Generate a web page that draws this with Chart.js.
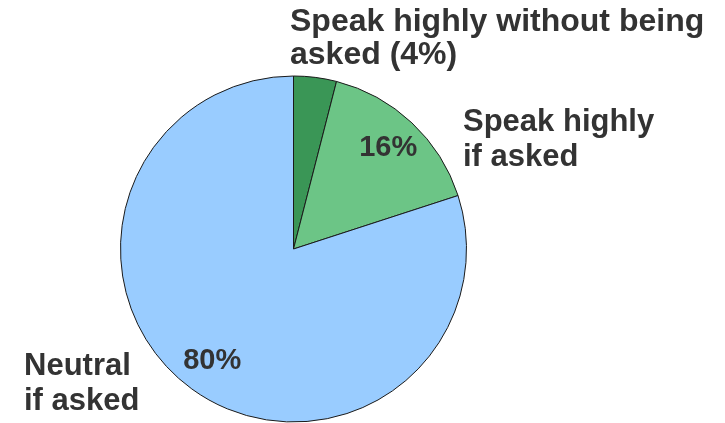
<!DOCTYPE html>
<html>
<head>
<meta charset="utf-8">
<script src="https://cdn.jsdelivr.net/npm/chart.js@4/dist/chart.umd.min.js"></script>
<style>
  html, body { margin: 0; padding: 0; background: #fff; }
  #pie-chart { display: block; }
</style>
</head>
<body>
<canvas id="pie-chart" width="725" height="423"></canvas>
<script>
const categories = ["Speak highly without being asked", "Speak highly if asked", "Neutral if asked"];
const shares = [4, 16, 80];
const sliceColors = ["#3a9656", "#6cc586", "#99ccff"];

// outside labels, one array of lines per slice
const nameLines = [
  ["Speak highly without being", "asked (4%)"],
  ["Speak highly", "if asked"],
  ["Neutral", "if asked"],
];
// slices that also get a % inside
const showPct = [false, true, true];

const labelPos = [
  { x: 290, y: 31, lh: 33, size: 32 },
  { x: 463, y: 131, lh: 35, size: 31 },
  { x: 24, y: 375, lh: 35, size: 31 },
];

const sliceLabels = {
  id: "sliceLabels",
  afterDraw(chart) {
    const ctx = chart.ctx;
    const arcs = chart.getDatasetMeta(0).data;
    ctx.save();
    ctx.fillStyle = "#333333";
    ctx.textBaseline = "alphabetic";
    ctx.textAlign = "left";
    nameLines.forEach((lines, i) => {
      const p = labelPos[i];
      ctx.font = "bold " + p.size + "px 'Liberation Sans', Arial, sans-serif";
      lines.forEach((t, j) => ctx.fillText(t, p.x, p.y + j * p.lh));
    });

    ctx.font = "bold 29px 'Liberation Sans', Arial, sans-serif";
    ctx.textAlign = "center";
    ctx.textBaseline = "middle";
    arcs.forEach((arc, i) => {
      if (!showPct[i]) return;
      const mid = (arc.startAngle + arc.endAngle) / 2;
      const r = arc.outerRadius * 0.8;
      ctx.fillText(shares[i] + "%", arc.x + Math.cos(mid) * r, arc.y + Math.sin(mid) * r);
    });
    ctx.restore();
  },
};

const config = {
  type: "pie",
  data: {
    labels: categories,
    datasets: [
      {
        data: shares,
        backgroundColor: sliceColors,
        borderColor: "#1a1a1a",
        borderWidth: 1,
      },
    ],
  },
  options: {
    responsive: false,
    animation: false,
    layout: {
      padding: { top: 75, bottom: 0, left: 120, right: 258 },
    },
    plugins: {
      legend: { display: false },
      tooltip: { enabled: false },
    },
  },
  plugins: [sliceLabels],
};

const myPieChart = new Chart(document.getElementById("pie-chart"), config);
</script>
</body>
</html>
